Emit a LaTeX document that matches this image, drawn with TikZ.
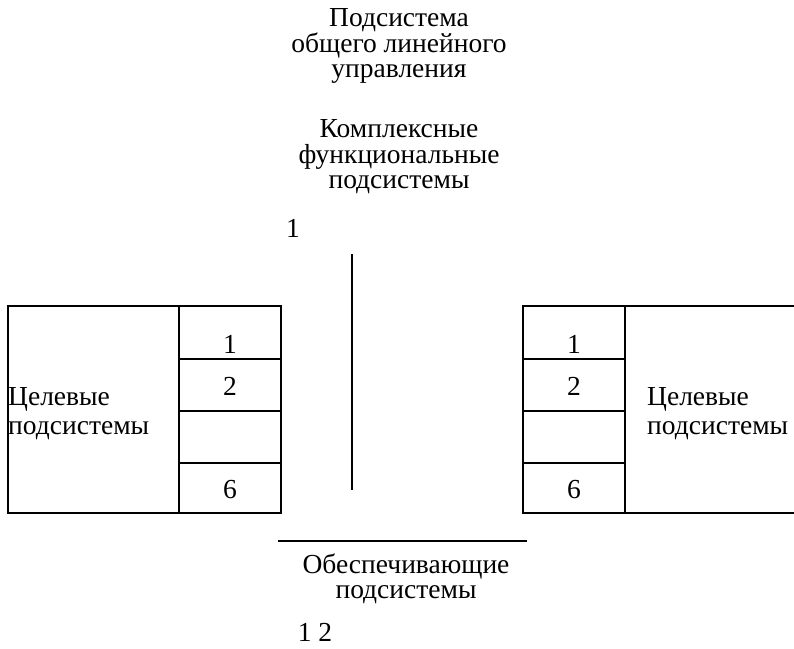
\documentclass[tikz,border=0pt]{standalone}
\usepackage{fontspec}
\setmainfont{Liberation Serif}
\begin{document}
\begin{tikzpicture}[x=1pt,y=-1pt,
  txt/.style={font=\fontsize{27.5}{25.5}\selectfont, align=center, inner sep=0pt},
  ltxt/.style={font=\fontsize{27.5}{29}\selectfont, align=left, inner sep=0pt},
  cell/.style={draw, line width=1.9pt, inner sep=0pt, outer sep=0pt},
  bar/.style={line width=2.8pt}]
\useasboundingbox (0,0) rectangle (794,648);
% top texts
\node[txt] (t1) at (399,46) {Подсистема\\общего линейного\\управления};
\node[txt] (t2) at (399,157) {Комплексные\\функциональные\\подсистемы};
\node[txt] (n1) at (293,228) {1};
% vertical bar
\coordinate (vt) at (352,254);
\coordinate (vb) at (352,490);
\draw[bar] (vt) -- (vb);
% left block
\node[cell, minimum width=273pt, minimum height=207pt] (L) at (144.5,409.5) {};
\node[cell, minimum width=102pt, minimum height=53pt] (L1) at (230,332.5) {};
\node[cell, minimum width=102pt, minimum height=52pt] (L2) at (230,385) {};
\node[cell, minimum width=102pt, minimum height=52pt] (L3) at (230,437) {};
\node[cell, minimum width=102pt, minimum height=50pt] (L4) at (230,488) {};
\node[txt] (l1) at (230,344) {1};
\node[txt] (l2) at (230,386) {2};
\node[txt] (l6) at (230,490) {6};
\node[ltxt, anchor=west] (lt) at (8,414) {Целевые\\подсистемы};
% right block
\coordinate (rtr) at (794,306);
\coordinate (rbr) at (794,513);
\node[cell, minimum width=102pt, minimum height=53pt] (R1) at (574,332.5) {};
\node[cell, minimum width=102pt, minimum height=52pt] (R2) at (574,385) {};
\node[cell, minimum width=102pt, minimum height=52pt] (R3) at (574,437) {};
\node[cell, minimum width=102pt, minimum height=50pt] (R4) at (574,488) {};
\draw[line width=1.9pt] (R1.north east) -- (rtr);
\draw[line width=1.9pt] (R4.south east) -- (rbr);
\node[txt] (r1) at (574,344) {1};
\node[txt] (r2) at (574,386) {2};
\node[txt] (r6) at (574,490) {6};
\node[ltxt, anchor=west] (rt) at (647,414) {Целевые\\подсистемы};
% bottom
\coordinate (hl) at (278,541);
\coordinate (hr) at (527,541);
\draw[bar] (hl) -- (hr);
\node[txt] (b1) at (406,579) {Обеспечивающие\\подсистемы};
\node[txt] (b2) at (315,632) {1 2};
\end{tikzpicture}
\end{document}
